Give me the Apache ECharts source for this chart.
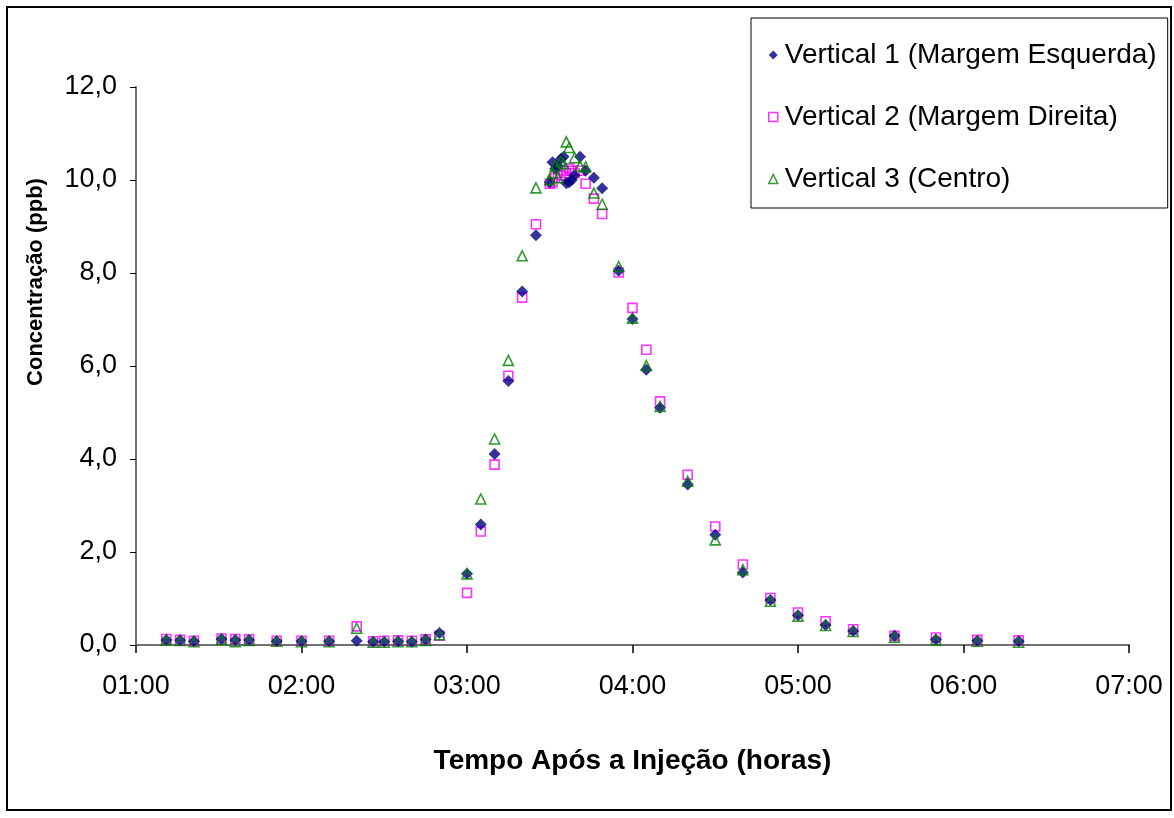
<!DOCTYPE html>
<html>
<head>
<meta charset="utf-8">
<script src="https://cdn.jsdelivr.net/npm/echarts@6/dist/echarts.min.js"></script>
<style>
html,body{margin:0;padding:0;background:#fff;}
#chart{width:1174px;height:818px;}
</style>
</head>
<body>
<div id="chart"></div>
<script>
// ---- Data ----
const seriesNames = ['Vertical 1 (Margem Esquerda)', 'Vertical 2 (Margem Direita)', 'Vertical 3 (Centro)'];

const times1 = ['01:11','01:16','01:21','01:31','01:36','01:41','01:51','02:00','02:10','02:20','02:26','02:30','02:35','02:40','02:45','02:50','03:00','03:05','03:10','03:15','03:20','03:25',
  '03:30','03:31','03:32','03:33','03:34','03:35','03:36','03:37','03:38','03:39','03:41','03:43','03:46','03:49',
  '03:55','04:00','04:05','04:10','04:20','04:30','04:40','04:50','05:00','05:10','05:20','05:35','05:50','06:05','06:20'];
const values1 = [0.11,0.10,0.08,0.13,0.11,0.11,0.08,0.08,0.08,0.09,0.07,0.07,0.08,0.07,0.12,0.26,1.53,2.59,4.11,5.68,7.60,8.81,
  9.95,10.38,10.25,10.30,10.45,10.50,9.93,9.95,10.00,10.10,10.50,10.20,10.05,9.82,
  8.05,7.01,5.92,5.10,3.45,2.37,1.56,0.97,0.64,0.43,0.30,0.20,0.12,0.09,0.08];

const times2 = ['01:11','01:16','01:21','01:31','01:36','01:41','01:51','02:00','02:10','02:20','02:26','02:30','02:35','02:40','02:45','02:50','03:00','03:05','03:10','03:15','03:20','03:25',
  '03:30','03:31','03:32','03:33','03:34','03:35','03:36','03:37','03:38','03:39','03:41','03:43','03:46','03:49',
  '03:55','04:00','04:05','04:10','04:20','04:30','04:40','04:50','05:00','05:10','05:20','05:35','05:50','06:05','06:20'];
const values2 = [0.13,0.11,0.09,0.14,0.13,0.12,0.09,0.09,0.09,0.40,0.08,0.09,0.10,0.09,0.12,0.20,1.12,2.44,3.88,5.79,7.47,9.05,
  9.92,9.95,10.05,10.15,10.10,10.20,10.15,10.25,10.20,10.15,10.20,9.92,9.60,9.27,
  8.01,7.25,6.35,5.24,3.66,2.55,1.73,1.01,0.70,0.51,0.34,0.20,0.16,0.11,0.10];

const times3 = ['01:11','01:16','01:21','01:31','01:36','01:41','01:51','02:00','02:10','02:20','02:26','02:30','02:35','02:40','02:45','02:50','03:00','03:05','03:10','03:15','03:20','03:25',
  '03:30','03:31','03:32','03:33','03:34','03:35','03:36','03:37','03:39','03:41','03:43','03:46','03:49',
  '03:55','04:00','04:05','04:10','04:20','04:30','04:40','04:50','05:00','05:10','05:20','05:35','05:50','06:05','06:20'];
const values3 = [0.11,0.10,0.07,0.12,0.07,0.10,0.08,0.07,0.07,0.36,0.06,0.06,0.07,0.07,0.10,0.22,1.53,3.14,4.43,6.12,8.37,9.83,
  10.00,10.15,10.30,10.05,10.40,10.35,10.82,10.70,10.48,10.30,10.28,9.72,9.48,
  8.14,7.03,6.01,5.13,3.52,2.26,1.62,0.94,0.62,0.42,0.29,0.17,0.11,0.08,0.06];

const xTickHours = [1,2,3,4,5,6,7];
const yTicks = [0,2,4,6,8,10,12];

// ---- helpers ----
function toHours(s){ const p = s.split(':'); return Number(p[0]) + Number(p[1])/60; }
function pairs(ts, vs){ return ts.map((t,i)=>[toHours(t), vs[i]]); }
function fmtHour(v){ const h = Math.round(v); return (h<10?'0':'')+h+':00'; }

const FONT = 'Liberation Sans, Arial, sans-serif';
const chart = echarts.init(document.getElementById('chart'), null, {renderer:'canvas'});

chart.setOption({
  backgroundColor:'#ffffff',
  animation:false,
  textStyle:{fontFamily:FONT},
  grid:{left:136, right:45, top:87, bottom:173, containLabel:false},
  xAxis:{
    type:'value',
    min:xTickHours[0], max:xTickHours[xTickHours.length-1], interval:1,
    name:'Tempo Após a Injeção (horas)',
    nameLocation:'middle', nameGap:102,
    nameTextStyle:{fontFamily:FONT, fontSize:28, fontWeight:'bold', color:'#000'},
    axisLine:{show:true, onZero:false, lineStyle:{color:'#707070', width:2}},
    axisTick:{show:true, inside:false, length:8, lineStyle:{color:'#000', width:1.5}},
    axisLabel:{fontFamily:FONT, fontSize:27, color:'#000', margin:28, formatter:fmtHour},
    splitLine:{show:false}
  },
  yAxis:{
    type:'value',
    min:yTicks[0], max:yTicks[yTicks.length-1], interval:2,
    axisLine:{show:true, lineStyle:{color:'#707070', width:2}},
    axisTick:{show:true, inside:false, length:6, lineStyle:{color:'#000', width:1}},
    axisLabel:{fontFamily:FONT, fontSize:27, color:'#000', margin:19, formatter:v=>v.toFixed(1).replace('.',',')},
    splitLine:{show:false}
  },
  legend:{
    orient:'vertical',
    left:751, top:18,
    padding:[23,11,15,17],
    itemGap:34,
    itemWidth:9, itemHeight:9,
    borderColor:'#000', borderWidth:1,
    backgroundColor:'#fff',
    textStyle:{fontFamily:FONT, fontSize:28, color:'#000', padding:[0,0,0,2]},
    data:[
      {name:seriesNames[0], icon:'diamond', itemStyle:{color:'#000080'}},
      {name:seriesNames[1], icon:'rect', itemStyle:{color:'#fff', borderColor:'#FF00FF', borderWidth:1.5}},
      {name:seriesNames[2], icon:'triangle', itemStyle:{color:'#fff', borderColor:'#008000', borderWidth:1.5}}
    ]
  },
  graphic:[
    {type:'rect', shape:{x:7, y:7, width:1164, height:803}, style:{fill:'none', stroke:'#000', lineWidth:2}, silent:true, z:-10},
    {type:'text', x:36, y:282, rotation:Math.PI/2, style:{text:'Concentração (ppb)', font:'bold 22px '+FONT, fill:'#000', align:'center', verticalAlign:'middle'}}
  ],
  series:[
    {name:seriesNames[0], type:'scatter', data:pairs(times1, values1), symbol:'diamond', symbolSize:12,
      itemStyle:{color:'#000080'}, z:3},
    {name:seriesNames[1], type:'scatter', data:pairs(times2, values2), symbol:'rect', symbolSize:9,
      itemStyle:{color:'rgba(255,255,255,0)', borderColor:'#FF00FF', borderWidth:1.6}, z:2},
    {name:seriesNames[2], type:'scatter', data:pairs(times3, values3), symbol:'triangle', symbolSize:10,
      itemStyle:{color:'rgba(255,255,255,0)', borderColor:'#008000', borderWidth:1.6}, z:4}
  ]
});
</script>
</body>
</html>
